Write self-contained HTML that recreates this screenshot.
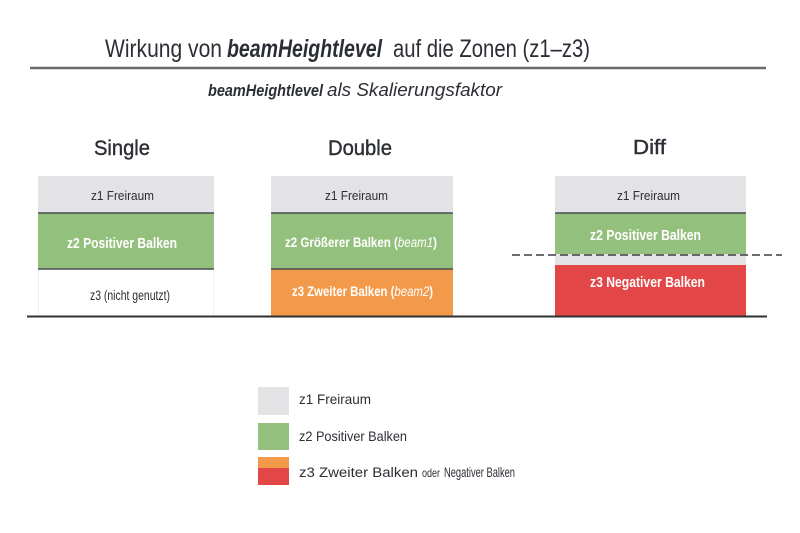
<!DOCTYPE html>
<html><head><meta charset="utf-8"><style>
html,body{margin:0;padding:0;background:#fff;}
svg{display:block;}
text{font-family:"Liberation Sans",sans-serif;}
</style></head><body>
<svg width="800" height="533" viewBox="0 0 800 533" xmlns="http://www.w3.org/2000/svg">
<rect width="800" height="533" fill="#ffffff"/>
<!-- Title -->
<g fill="#2b2e34">
<text x="105" y="57" font-size="25" textLength="117" lengthAdjust="spacingAndGlyphs">Wirkung von</text>
<text x="227" y="57" font-size="25" font-weight="bold" font-style="italic" textLength="155" lengthAdjust="spacingAndGlyphs">beamHeightlevel</text>
<text x="393" y="57" font-size="25" textLength="197" lengthAdjust="spacingAndGlyphs">auf die Zonen (z1–z3)</text>
</g>
<line x1="30" y1="68" x2="766" y2="68" stroke="#6b6b6e" stroke-width="2.5"/>
<g fill="#2b2e34">
<text x="208" y="96" font-size="17" font-weight="bold" font-style="italic" textLength="115" lengthAdjust="spacingAndGlyphs">beamHeightlevel</text>
<text x="327" y="96" font-size="18" font-style="italic" textLength="175" lengthAdjust="spacingAndGlyphs">als Skalierungsfaktor</text>
</g>
<!-- Column headers -->
<g fill="#2b2e34" stroke="#2b2e34" stroke-width="0.4">
<text x="94" y="155" font-size="21" textLength="56" lengthAdjust="spacingAndGlyphs">Single</text>
<text x="328" y="155" font-size="21" textLength="64" lengthAdjust="spacingAndGlyphs">Double</text>
<text x="633" y="154" font-size="20" textLength="33" lengthAdjust="spacingAndGlyphs">Diff</text>
</g>
<!-- Single -->
<rect x="38" y="176" width="176" height="37" fill="#e3e3e6"/>
<rect x="38" y="213" width="176" height="56" fill="#94c07e"/>
<rect x="38.5" y="269" width="175" height="47" fill="#ffffff" stroke="#f0f0f0" stroke-width="1"/>
<line x1="38" y1="213" x2="214" y2="213" stroke="#4a4d50" stroke-width="1.5"/>
<line x1="38" y1="269" x2="214" y2="269" stroke="#4a4d50" stroke-width="1.5"/>
<!-- Double -->
<rect x="271" y="176" width="182" height="37" fill="#e3e3e6"/>
<rect x="271" y="213" width="182" height="56" fill="#94c07e"/>
<rect x="271" y="269" width="182" height="47" fill="#f39a4a"/>
<line x1="271" y1="213" x2="453" y2="213" stroke="#4a4d50" stroke-width="1.5"/>
<line x1="271" y1="269" x2="453" y2="269" stroke="#4a4d50" stroke-width="1.5"/>
<!-- Diff -->
<rect x="555" y="176" width="191" height="90" fill="#e3e3e6"/>
<rect x="555" y="213" width="191" height="41" fill="#94c07e"/>
<rect x="555" y="265" width="191" height="51" fill="#e24646"/>
<line x1="555" y1="213" x2="746" y2="213" stroke="#4a4d50" stroke-width="1.5"/>
<line x1="512" y1="255" x2="782" y2="255" stroke="#3a3d40" stroke-width="1.5" stroke-dasharray="8,4"/>
<!-- Baseline -->
<line x1="27" y1="316.5" x2="767" y2="316.5" stroke="#2e3033" stroke-width="2"/>
<!-- Box labels -->
<g fill="#2b2e34" font-size="13">
<text x="91" y="200" textLength="63" lengthAdjust="spacingAndGlyphs">z1 Freiraum</text>
<text x="325" y="200" textLength="63" lengthAdjust="spacingAndGlyphs">z1 Freiraum</text>
<text x="617" y="200" textLength="63" lengthAdjust="spacingAndGlyphs">z1 Freiraum</text>
<text x="90" y="300" font-size="13.5" textLength="80" lengthAdjust="spacingAndGlyphs">z3 (nicht genutzt)</text>
</g>
<g fill="#ffffff" font-size="14.5" font-weight="bold">
<text x="67" y="248" textLength="110" lengthAdjust="spacingAndGlyphs">z2 Positiver Balken</text>
<text x="285" y="247" font-size="13.5" textLength="152" lengthAdjust="spacingAndGlyphs">z2 Größerer Balken (<tspan font-style="italic" font-weight="normal">beam1</tspan>)</text>
<text x="292" y="296" font-size="13.5" textLength="141" lengthAdjust="spacingAndGlyphs">z3 Zweiter Balken (<tspan font-style="italic" font-weight="normal">beam2</tspan>)</text>
<text x="590" y="240" textLength="111" lengthAdjust="spacingAndGlyphs">z2 Positiver Balken</text>
<text x="590" y="287" textLength="115" lengthAdjust="spacingAndGlyphs">z3 Negativer Balken</text>
</g>
<!-- Legend -->
<rect x="258" y="387" width="31" height="28" fill="#e3e3e6"/>
<rect x="258" y="423" width="31" height="27" fill="#94c07e"/>
<rect x="258" y="457" width="31" height="11" fill="#f39a4a"/>
<rect x="258" y="468" width="31" height="17" fill="#e24646"/>
<g fill="#2b2e34" font-size="14">
<text x="299" y="404" textLength="72" lengthAdjust="spacingAndGlyphs">z1 Freiraum</text>
<text x="299" y="441" textLength="108" lengthAdjust="spacingAndGlyphs">z2 Positiver Balken</text>
<text x="299" y="477" font-size="13.5" textLength="119" lengthAdjust="spacingAndGlyphs">z3 Zweiter Balken</text>
<text x="422" y="477" font-size="12" textLength="18" lengthAdjust="spacingAndGlyphs">oder</text>
<text x="444" y="477" textLength="71" lengthAdjust="spacingAndGlyphs">Negativer Balken</text>
</g>
</svg>
</body></html>
